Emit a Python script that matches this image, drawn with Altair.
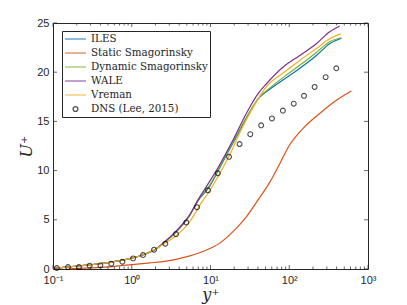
import altair as alt
import pandas as pd

# ---------------- data ----------------
series_names = ["ILES", "Static Smagorinsky", "Dynamic Smagorinsky", "WALE", "Vreman", "DNS (Lee, 2015)"]
series_colors = ["#0072BD", "#D95319", "#77AC30", "#7E2F8E", "#EDB120", "#000000"]

iles_y = [0.1, 0.15, 0.22, 0.3, 0.5, 0.7, 1.0, 1.4, 2.0, 2.6, 3.7, 5.44, 6.9, 9.75, 13.1, 19.3, 28.5, 42.5, 51, 83, 136, 221, 326, 459]
iles_u = [0.05, 0.2, 0.33, 0.43, 0.65, 0.85, 1.1, 1.45, 2.0, 2.7, 3.8, 5.45, 6.9, 8.4, 10.3, 12.8, 15.3, 17.5, 18.0, 19.2, 20.4, 21.7, 22.9, 23.45]

dyn_y = [0.1, 0.15, 0.22, 0.3, 0.5, 0.7, 1.0, 1.4, 2.0, 2.6, 3.7, 5.44, 6.9, 9.75, 13.1, 19.3, 28.5, 42.5, 51, 83, 136, 221, 326, 459]
dyn_u = [0.05, 0.2, 0.33, 0.43, 0.65, 0.85, 1.1, 1.45, 2.0, 2.7, 3.8, 5.45, 6.95, 8.5, 10.4, 12.9, 15.4, 17.55, 18.1, 19.45, 20.7, 22.0, 23.1, 23.5]

wale_y = [0.1, 0.15, 0.22, 0.3, 0.5, 0.7, 1.0, 1.4, 2.0, 2.6, 3.7, 5.44, 6.9, 8.9, 13.1, 19.3, 28.5, 40, 51, 83, 136, 221, 326, 437]
wale_u = [0.05, 0.2, 0.33, 0.43, 0.65, 0.85, 1.1, 1.45, 2.0, 2.75, 3.9, 5.5, 7.0, 8.4, 10.6, 13.1, 15.8, 17.8, 18.8, 20.5, 21.7, 22.9, 24.1, 24.7]

vrem_y = [0.1, 0.15, 0.22, 0.3, 0.5, 0.7, 1.0, 1.4, 2.0, 2.6, 3.7, 5.44, 8.04, 9.3, 13.1, 17.5, 23.4, 33, 42.5, 51, 83, 136, 221, 326, 450]
vrem_u = [0.05, 0.2, 0.33, 0.43, 0.65, 0.85, 1.1, 1.45, 2.0, 2.6, 3.4, 4.8, 7.0, 7.7, 9.7, 11.6, 13.8, 16.1, 17.6, 18.5, 19.9, 21.2, 22.4, 23.4, 23.9]

stat_y = [0.16, 0.25, 0.4, 0.65, 1.0, 1.7, 2.75, 4.5, 8.0, 13.1, 19.3, 28.5, 40, 56.5, 75.7, 101, 150, 243, 396, 614]
stat_u = [0.02, 0.08, 0.17, 0.3, 0.45, 0.62, 0.8, 1.15, 1.78, 2.63, 3.8, 5.3, 7.0, 8.8, 10.7, 12.6, 14.3, 15.8, 17.15, 18.1]

dns_y = [0.112, 0.155, 0.214, 0.292, 0.40, 0.55, 0.76, 1.04, 1.39, 1.92, 2.67, 3.65, 4.93, 6.74, 9.3, 12.4,
         17.2, 23.4, 32, 44, 60.3, 83, 114, 154, 210, 290, 396]
dns_u = [0.1, 0.2, 0.2, 0.34, 0.37, 0.54, 0.74, 1.08, 1.42, 1.96, 2.57, 3.55, 4.73, 6.28, 8.0, 9.73,
         11.4, 12.7, 13.7, 14.6, 15.3, 16.1, 16.8, 17.6, 18.5, 19.5, 20.4]

x_major = [0.1, 1, 10, 100, 1000]
x_major_labels = ["10⁻¹", "10⁰", "10¹", "10²", "10³"]
x_minor = [m * d for d in [0.1, 1, 10, 100] for m in [2, 3, 4, 5, 6, 7, 8, 9]]
y_major = [0, 5, 10, 15, 20, 25]

# ---------------- frames ----------------
rows = []
for name, xs, us in [("ILES", iles_y, iles_u), ("Static Smagorinsky", stat_y, stat_u),
                     ("Dynamic Smagorinsky", dyn_y, dyn_u), ("WALE", wale_y, wale_u),
                     ("Vreman", vrem_y, vrem_u)]:
    for a, b in zip(xs, us):
        rows.append({"series": name, "x": a, "y": b})
lines_df = pd.DataFrame(rows)
dns_df = pd.DataFrame({"series": "DNS (Lee, 2015)", "x": dns_y, "y": dns_u})

W, H = 315, 246
AX = "#262626"
SERIF = "DejaVu Serif"
SANS = "Liberation Sans"
xscale = alt.Scale(type="log", domain=[0.1, 1000], nice=False)
yscale = alt.Scale(domain=[0, 25], nice=False, zero=False)

label_expr = ("datum.value < 0.5 ? '" + x_major_labels[0] + "' : datum.value < 5 ? '" + x_major_labels[1] +
              "' : datum.value < 50 ? '" + x_major_labels[2] + "' : datum.value < 500 ? '" + x_major_labels[3] +
              "' : '" + x_major_labels[4] + "'")

xaxis = alt.Axis(values=x_major, labelExpr=label_expr, ticks=False, domain=False, grid=False,
                 title="y⁺", titleFont=SERIF, titleFontStyle="italic",
                 titleFontWeight="normal", titleFontSize=16, titleColor=AX,
                 titleY=25, titleBaseline="middle",
                 labelFont=SANS, labelFontSize=11, labelColor=AX, labelPadding=5,
                 labelFlush=False)
yaxis = alt.Axis(values=y_major, ticks=False, domain=False, grid=False,
                 title="U⁺", titleFont=SERIF, titleFontStyle="italic",
                 titleFontWeight="normal", titleFontSize=16, titleColor=AX,
                 titleX=-27, titleY=H / 2, titleAngle=-90, titleAlign="center",
                 titleBaseline="middle",
                 labelFont=SANS, labelFontSize=11, labelColor=AX, labelPadding=4)

legend = alt.Legend(title=None, orient="none", legendX=9, legendY=8,
                    labelFont=SERIF, labelFontSize=10.3, labelColor=AX,
                    strokeColor=AX, fillColor="white", padding=2, symbolSize=441,
                    symbolStrokeWidth=1.3, rowPadding=2, labelOffset=4, cornerRadius=0,
                    labelLimit=300, clipHeight=12)
color = alt.Color("series:N", scale=alt.Scale(domain=series_names, range=series_colors), legend=legend)
circle_path = "M0.23,0A0.23,0.23,0,1,1,-0.23,0A0.23,0.23,0,1,1,0.23,0"
shape = alt.Shape("series:N", scale=alt.Scale(domain=series_names,
                  range=["stroke"] * 5 + [circle_path]), legend=legend)

X = alt.X("x:Q", scale=xscale, axis=xaxis)
Y = alt.Y("y:Q", scale=yscale, axis=yaxis)

lines = alt.Chart(lines_df).mark_line(strokeWidth=1.2, interpolate="monotone").encode(
    x=X, y=Y, color=color, detail="series:N")

points = alt.Chart(dns_df).mark_point(filled=False, size=441, strokeWidth=1.1).encode(
    x=X, y=Y, color=color, shape=shape)

def xticks(vals, length):
    df = pd.DataFrame({"x": vals})
    bot = alt.Chart(df).mark_rule(color=AX, strokeWidth=0.7).encode(
        x=X, y=alt.value(H), y2=alt.value(H - length))
    top = alt.Chart(df).mark_rule(color=AX, strokeWidth=0.7).encode(
        x=X, y=alt.value(0), y2=alt.value(length))
    return [bot, top]

def yticks(vals, length):
    df = pd.DataFrame({"y": vals})
    left = alt.Chart(df).mark_rule(color=AX, strokeWidth=0.7).encode(
        y=Y, x=alt.value(0), x2=alt.value(length))
    right = alt.Chart(df).mark_rule(color=AX, strokeWidth=0.7).encode(
        y=Y, x=alt.value(W), x2=alt.value(W - length))
    return [left, right]

layers = [lines, points] + xticks(x_major, 4) + xticks(x_minor, 2.5) + yticks(y_major, 4)

chart = alt.layer(*layers).properties(
    width=W, height=H,
    autosize=alt.AutoSizeParams(type="none"),
    padding={"left": 45, "top": 15, "right": 30, "bottom": 36},
    background="white",
).configure_view(stroke=AX, strokeWidth=1)

chart.save("out.html", embed_options={"renderer": "svg", "actions": False})
